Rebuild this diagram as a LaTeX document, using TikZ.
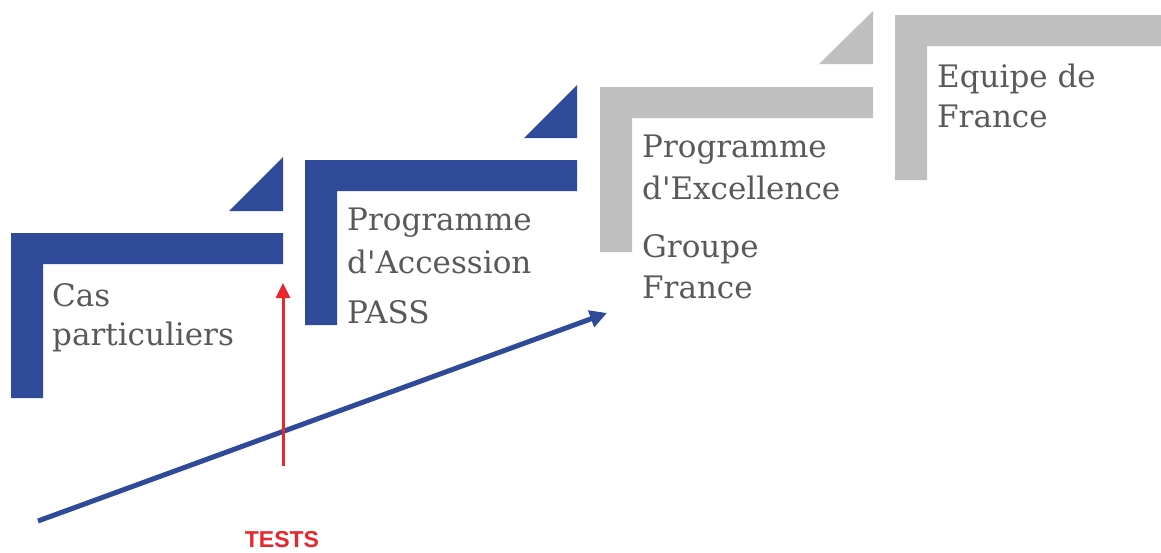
\documentclass[tikz,border=0pt]{standalone}
\usepackage{fontspec}
\newfontfamily\lblfont{DejaVu Serif}
\newfontfamily\testfont{Liberation Sans}
\usetikzlibrary{arrows.meta}
\definecolor{stepblue}{RGB}{46,74,152}
\definecolor{stepgray}{RGB}{191,191,191}
\definecolor{txtgray}{RGB}{89,89,89}
\definecolor{testred}{RGB}{232,38,43}
\tikzset{
  lbl/.style={anchor=base west, inner sep=0pt, text=txtgray, font=\lblfont\fontsize{31}{41}\selectfont},
}
\newcommand{\stepL}[4]{% x y color rightx
  \fill[#3] (#1,#2) -- (#4,#2) -- (#4,#2+31) -- (#1+32,#2+31) -- (#1+32,#2+165) -- (#1,#2+165) -- cycle;
}
\begin{document}
\begin{tikzpicture}[x=1pt,y=-1pt]
\useasboundingbox (0,0) rectangle (1161,552);
% steps
\stepL{11}{233}{stepblue}{283}
\fill[stepblue] (229,211) -- (283,211) -- (283,157) -- cycle;
\stepL{305}{160}{stepblue}{577}
\fill[stepblue] (524,138) -- (577,138) -- (577,85) -- cycle;
\stepL{600}{87}{stepgray}{873}
\fill[stepgray] (819,64) -- (873,64) -- (873,11) -- cycle;
\stepL{895}{15}{stepgray}{1161}
% labels
\node[lbl] (cas1) at (52,306) {Cas};
\node[lbl] (cas2) at (52,345) {particuliers};
\node[lbl] (acc1) at (347,230) {Programme};
\node[lbl] (acc2) at (347,273) {d'Accession};
\node[lbl] (pass) at (347,323) {PASS};
\node[lbl] (exc1) at (642,157) {Programme};
\node[lbl] (exc2) at (642,199) {d'Excellence};
\node[lbl] (grp1) at (642,257) {Groupe};
\node[lbl] (grp2) at (642,298) {France};
\node[lbl] (edf1) at (937,87) {Equipe de};
\node[lbl] (edf2) at (937,127) {France};
% arrows
\coordinate (bstart) at (38,521);
\coordinate (bend) at (607,313);
\draw[stepblue, line width=5pt, -{Triangle[length=17pt,width=17pt]}] (bstart) -- (bend);
\coordinate (rstart) at (283,466);
\coordinate (rend) at (283,283);
\draw[testred, line width=3pt, -{Triangle[length=15pt,width=14pt]}] (rstart) -- (rend);
\node[anchor=center, inner sep=0pt, text=testred, font=\testfont\bfseries\fontsize{23}{26}\selectfont] (tests) at (282,540) {TESTS};
\end{tikzpicture}
\end{document}
